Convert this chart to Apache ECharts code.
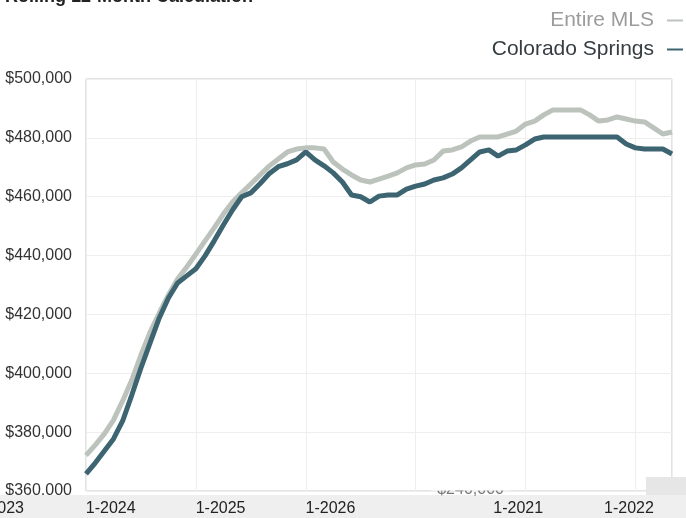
<!DOCTYPE html>
<html><head><meta charset="utf-8">
<script src="https://cdn.jsdelivr.net/npm/echarts@6/dist/echarts.min.js"></script>
<style>html,body{margin:0;padding:0;background:#fff}#c{width:686px;height:518px}</style>
</head><body><div id="c"></div>
<script>
// ---- data (monthly, rolling 12-month median price) ----
const seriesNames = ['Entire MLS', 'Colorado Springs'];
const entireMLS = [
  372100, 375600, 379400, 384100, 390600, 397700, 406200, 414000, 420500, 426600,
  432000, 436100, 440500, 445000, 449400, 454100, 458200, 461300, 464300, 467400,
  470400, 472800, 475200, 476200, 476600, 476600, 476200, 471800, 469400, 467400,
  465700, 465000, 466000, 467000, 468100, 469800, 470800, 471100, 472500, 475500,
  475900, 476900, 478900, 480300, 480300, 480300, 481300, 482300, 484700, 485700,
  487800, 489500, 489500, 489500, 489500, 487800, 485700, 486100, 487100, 486400,
  485700, 485400, 483400, 481300, 482000
];
const coloradoSprings = [
  365800, 369500, 373600, 377700, 383800, 392600, 401800, 410300, 418800, 425600,
  430700, 433100, 435500, 439900, 445000, 450400, 455500, 460000, 461300, 464400,
  467800, 470200, 471200, 472500, 475200, 472500, 470500, 468100, 465000, 460600,
  460000, 458200, 460200, 460600, 460600, 462600, 463600, 464300, 465700, 466400,
  467700, 469800, 472500, 475200, 475900, 473800, 475500, 475900, 477600, 479600,
  480300, 480300, 480300, 480300, 480300, 480300, 480300, 480300, 480300, 477900,
  476600, 476200, 476200, 476200, 474500
];
const xTickLabels = ['1-2023', '1-2024', '1-2025', '1-2026', '1-2021', '1-2022'];
const xTickMonths = [-9.5, 2.7, 14.7, 26.7, 47.2, 59.3];
const yMin = 360000, yMax = 500000, yStep = 20000;
const titleText = 'Rolling 12-Month Calculation';
const strayText = '$240,000';

const FONT = '"Liberation Sans", Arial, Helvetica, sans-serif';
const chart = echarts.init(document.getElementById('c'), null, {renderer: 'canvas'});
const toPairs = arr => arr.map((v, i) => [i, v]);
const lastMonth = coloradoSprings.length - 1;
const labelFor = v => {
  const i = xTickMonths.findIndex(m => Math.abs(m - v) < 1e-6);
  return i >= 0 ? xTickLabels[i] : '';
};

chart.setOption({
  animation: false,
  backgroundColor: '#fff',
  textStyle: {fontFamily: FONT},
  grid: {left: 86, right: 14, top: 79, bottom: 27, show: true,
         borderColor: '#c6c6c6', borderWidth: 1, backgroundColor: '#fff'},
  legend: {
    orient: 'vertical', right: -2, top: 5, align: 'right',
    itemWidth: 16, itemHeight: 2, itemGap: 8, icon: 'rect',
    textStyle: {fontSize: 21, fontFamily: FONT, padding: [0, 8, 0, 0]},
    data: [
      {name: seriesNames[0], textStyle: {color: '#9c9c9c'}},
      {name: seriesNames[1], textStyle: {color: '#353d41'}}
    ]
  },
  xAxis: [
    {type: 'value', min: 0, max: lastMonth, interval: 12,
     axisLine: {show: false}, axisTick: {show: false}, axisLabel: {show: false},
     splitLine: {show: true, lineStyle: {color: '#eeeeee', width: 1}}},
    {type: 'value', min: 0, max: lastMonth, position: 'bottom', z: 10,
     axisLine: {show: false}, axisTick: {show: false}, splitLine: {show: false},
     axisLabel: {customValues: xTickMonths.filter(m => m >= 0), formatter: labelFor,
                 fontSize: 16, color: '#222', margin: 10, fontFamily: FONT}}
  ],
  yAxis: {
    type: 'value', min: yMin, max: yMax, interval: yStep,
    axisLine: {show: false}, axisTick: {show: false},
    splitLine: {show: true, lineStyle: {color: '#eeeeee', width: 1}},
    axisLabel: {formatter: v => '$' + v.toLocaleString('en-US'),
                fontSize: 16, color: '#333', margin: 14, fontFamily: FONT}
  },
  series: [
    {name: seriesNames[0], type: 'line', xAxisIndex: 0, data: toPairs(entireMLS),
     symbol: 'none', lineStyle: {width: 5, color: '#bcc3bd'}, itemStyle: {color: '#bcc3bd'}, z: 2},
    {name: seriesNames[1], type: 'line', xAxisIndex: 0, data: toPairs(coloradoSprings),
     symbol: 'none', lineStyle: {width: 5, color: '#3d6571'}, itemStyle: {color: '#3d6571'}, z: 3}
  ]
});

const firstX = chart.convertToPixel({xAxisIndex: 0}, xTickMonths[0]);
const strayX = chart.convertToPixel({xAxisIndex: 0}, 42);
chart.setOption({
  graphic: [
    {type: 'text', left: 5, top: -12, z: 20,
     style: {text: titleText, font: 'bold 18px ' + FONT, fill: '#222'}},
    {type: 'rect', shape: {x: 0, y: 495, width: 686, height: 23}, z: 5,
     style: {fill: '#efefef'}},
    {type: 'text', x: strayX, y: 490, z: 6,
     style: {text: strayText, font: '16px ' + FONT, fill: '#777', align: 'center', verticalAlign: 'middle'}},
    {type: 'rect', shape: {x: strayX - 40, y: 478, width: 80, height: 12.4}, z: 7,
     style: {fill: '#fff'}},
    {type: 'rect', shape: {x: 646, y: 477, width: 40, height: 18}, z: 6,
     style: {fill: '#e6e6e6'}},
    {type: 'text', x: firstX, y: 509, z: 20,
     style: {text: xTickLabels[0], font: '16px ' + FONT, fill: '#222', align: 'center', verticalAlign: 'middle'}}
  ]
});
</script></body></html>
